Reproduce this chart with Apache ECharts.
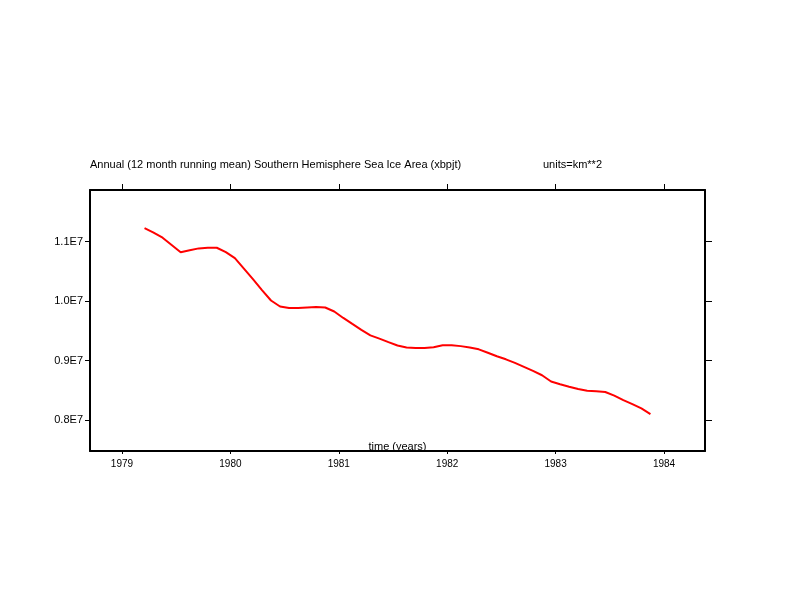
<!DOCTYPE html>
<html>
<head>
<meta charset="utf-8">
<script src="https://cdn.jsdelivr.net/npm/echarts@6/dist/echarts.min.js"></script>
<style>
  html, body {margin: 0; padding: 0; background: #fff;}
  #main {width: 792px; height: 612px;}
</style>
</head>
<body>
<div id="main"></div>
<script>
// monthly points of the 12 month running mean, starting 1979 (mid-March)
var startYear = 1979.208;
var iceArea = [
    11230000, 11154000, 11067000, 10945000, 10824000, 10858000, 10888000, 10899000,
    10899000, 10824000, 10723000, 10549000, 10372000, 10187000, 10011000, 9911000,
    9884000, 9887000, 9894000, 9901000, 9894000, 9827000, 9718000, 9617000,
    9517000, 9425000, 9371000, 9311000, 9254000, 9220000, 9212000, 9212000,
    9224000, 9257000, 9257000, 9244000, 9220000, 9190000, 9133000, 9073000,
    9022000, 8962000, 8895000, 8828000, 8754000, 8649000, 8604000, 8562000,
    8523000, 8495000, 8486000, 8473000, 8411000, 8335000, 8268000, 8196000,
    8101000
];
var xTicks = [1979, 1980, 1981, 1982, 1983, 1984];
var yTicks = [8000000, 9000000, 10000000, 11000000];

var seriesData = [];
for (var i = 0; i < iceArea.length; i++) {
    seriesData.push([startYear + i / 12, iceArea[i]]);
}

var font = 'Liberation Sans, Arial, sans-serif';
var axisLine = {show: true, lineStyle: {color: '#000', width: 2}};

var myChart = echarts.init(document.getElementById('main'));
myChart.setOption({
    animation: false,
    title: [
        {
            text: 'Annual (12 month running mean) Southern Hemisphere Sea Ice Area (xbpjt)',
            left: 90, top: 159, padding: 0,
            textStyle: {fontFamily: font, fontSize: 11, fontWeight: 'normal', color: '#000'}
        },
        {
            text: 'units=km**2',
            left: 543, top: 159, padding: 0,
            textStyle: {fontFamily: font, fontSize: 11, fontWeight: 'normal', color: '#000'}
        }
    ],
    grid: {left: 90, right: 87, top: 190, bottom: 161, containLabel: false},
    xAxis: [
        {
            type: 'value', position: 'bottom',
            min: 1978.705, max: 1984.378,
            name: 'time (years)', nameLocation: 'middle', nameGap: -10,
            nameMoveOverlap: false,
            nameTextStyle: {fontFamily: font, fontSize: 11, color: '#000'},
            axisLine: axisLine,
            axisTick: {show: true, customValues: xTicks, length: 3, inside: false,
                lineStyle: {color: '#000', width: 1}},
            splitLine: {show: false},
            axisLabel: {
                customValues: xTicks, margin: 8,
                fontFamily: font, fontSize: 10, color: '#000',
                formatter: function (v) { return String(v); }
            }
        },
        {
            type: 'value', position: 'top',
            min: 1978.705, max: 1984.378,
            axisLine: axisLine,
            axisTick: {show: true, customValues: xTicks, length: 6, inside: false,
                lineStyle: {color: '#000', width: 1}},
            axisLabel: {show: false},
            splitLine: {show: false}
        }
    ],
    yAxis: [
        {
            type: 'value', position: 'left',
            min: 7480000, max: 11870000,
            axisLine: axisLine,
            axisTick: {show: true, customValues: yTicks, length: 5, inside: false,
                lineStyle: {color: '#000', width: 1}},
            splitLine: {show: false},
            axisLabel: {
                customValues: yTicks, margin: 7,
                fontFamily: font, fontSize: 11, color: '#000',
                formatter: function (v) { return (v / 1e7).toFixed(1) + 'E7'; }
            }
        },
        {
            type: 'value', position: 'right',
            min: 7480000, max: 11870000,
            axisLine: axisLine,
            axisTick: {show: true, customValues: yTicks, length: 7, inside: false,
                lineStyle: {color: '#000', width: 1}},
            axisLabel: {show: false},
            splitLine: {show: false}
        }
    ],
    series: [
        {
            name: 'SH sea ice area',
            type: 'line',
            xAxisIndex: 0, yAxisIndex: 0,
            data: seriesData,
            showSymbol: false,
            symbol: 'none',
            lineStyle: {color: '#ff0000', width: 2}
        }
    ]
});
</script>
</body>
</html>
